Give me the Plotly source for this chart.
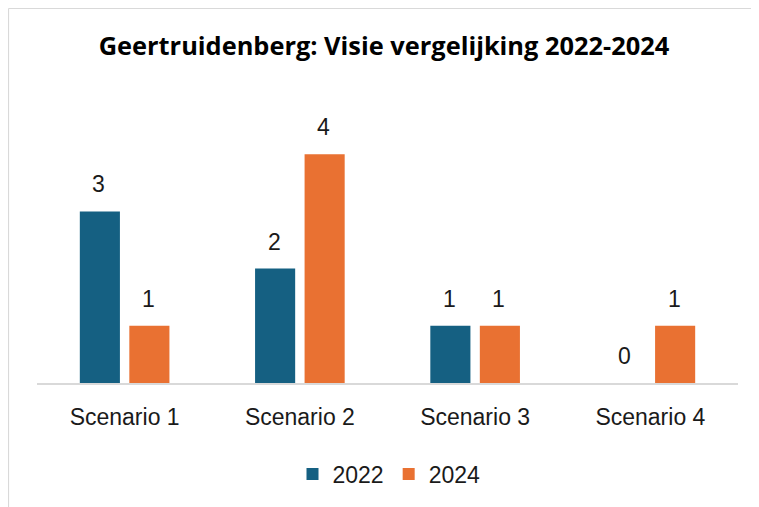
import plotly.graph_objects as go

categories = ["Scenario 1", "Scenario 2", "Scenario 3", "Scenario 4"]
series_names = ["2022", "2024"]
values_2022 = [3, 2, 1, 0]
values_2024 = [1, 4, 1, 1]
colors = ["#156082", "#E97132"]

W, H = 759, 507
OFF = 8  # page body margin offset
L, R, T, B = 37 - OFF, 759 - (738 - OFF), 97 - OFF, 507 - (383 - OFF)
pw = W - L - R
ph = H - T - B

fig = go.Figure()
for name, vals, col in zip(series_names, [values_2022, values_2024], colors):
    fig.add_trace(go.Bar(x=categories, y=vals, name=name, marker=dict(color=col, line=dict(width=0))))

shift = 24.75
for vals, s in zip([values_2022, values_2024], [-shift, shift]):
    for c, v in zip(categories, vals):
        fig.add_annotation(x=c, y=v, xref="x", yref="y", text=str(v), showarrow=False,
                           xshift=s - 1, yshift=27, yanchor="middle",
                           font=dict(family="Liberation Sans, Arial", size=23, color="#1a1a1a"))

def px2x(p):
    return (p - OFF - L) / pw

def py2y(p):
    return (H - B - (p - OFF)) / ph

fig.add_shape(type="line", xref="paper", yref="paper", x0=px2x(8.5), x1=px2x(770), y0=py2y(8.5), y1=py2y(8.5),
              line=dict(color="#D9D9D9", width=1.2))
fig.add_shape(type="line", xref="paper", yref="paper", x0=px2x(8.5), x1=px2x(8.5), y0=py2y(8.5), y1=py2y(520),
              line=dict(color="#D9D9D9", width=1.2))

fig.update_layout(
    width=W, height=H,
    margin=dict(l=L, r=R, t=T, b=B),
    paper_bgcolor="white", plot_bgcolor="white",
    barmode="group", bargap=0.435, bargroupgap=0.19,
    title=dict(text="<b>Geertruidenberg: Visie vergelijking 2022-2024</b>", x=(384 - OFF) / W, xanchor="center",
               xref="container", y=1 - (46 - OFF) / H, yref="container", yanchor="middle",
               font=dict(family="Open Sans, Roboto", size=25.4, color="#000000")),
    xaxis=dict(showline=True, linecolor="#D9D9D9", linewidth=1.5, ticks="", showgrid=False,
               ticklabelstandoff=13,
               tickfont=dict(family="Liberation Sans, Arial", size=23, color="#1a1a1a")),
    yaxis=dict(range=[0, 5], visible=False, showgrid=False, zeroline=False),
    legend=dict(orientation="h", x=px2x(389), xanchor="center", y=py2y(474), yanchor="middle",
                font=dict(family="Liberation Sans, Arial", size=23, color="#1a1a1a"),
                itemwidth=30, traceorder="normal"),
    showlegend=True,
)

fig.write_html("out.html")
